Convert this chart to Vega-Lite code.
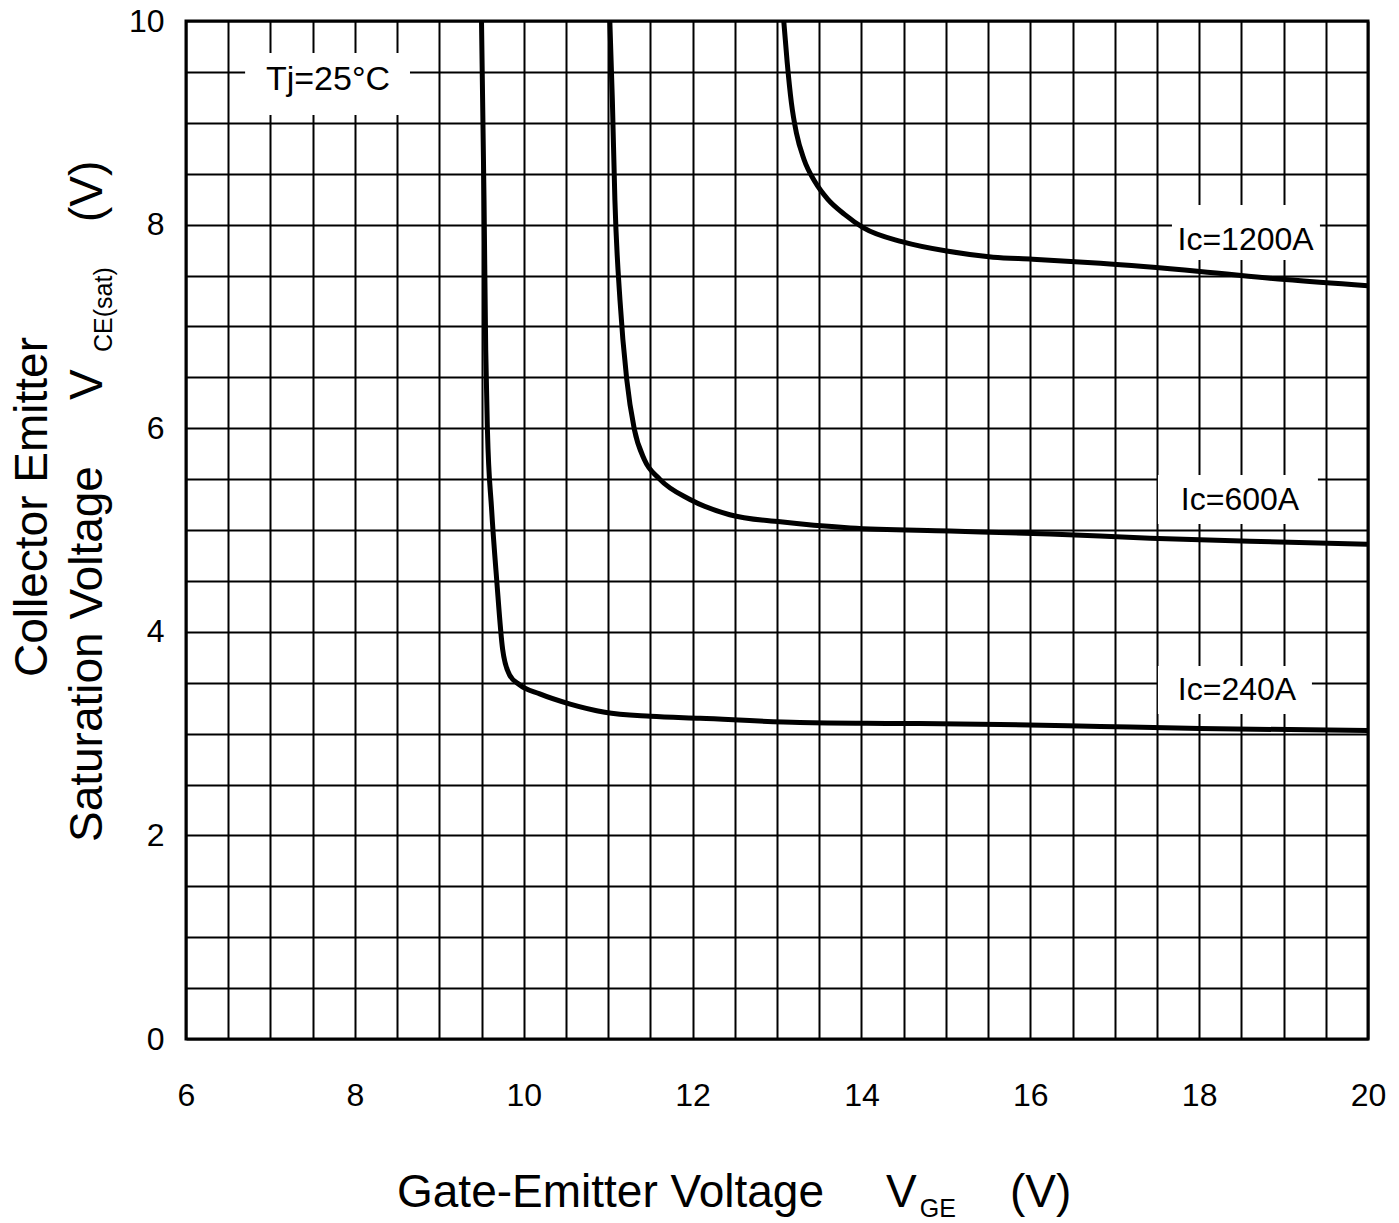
{
  "$schema": "https://vega.github.io/schema/vega-lite/v6.json",
  "width": 1182,
  "height": 1018,
  "autosize": {"type": "none"},
  "padding": {"left": 186, "top": 21, "right": 31, "bottom": 184},
  "background": "white",
  "config": {
    "view": {"stroke": "black", "strokeWidth": 3},
    "font": "Liberation Sans",
    "axis": {
      "grid": true, "gridColor": "black", "gridWidth": 2, "gridOpacity": 1,
      "domain": false, "ticks": false, "tickSize": 0,
      "labelFont": "Liberation Sans", "labelFontSize": 32, "labelColor": "black",
      "labelOverlap": false, "labelFlush": false, "title": null
    }
  },
  "datasets": {
    "curves": [
      {"s": "240A", "x": 9.50, "y": 10.0},
      {"s": "240A", "x": 9.53, "y": 8.24},
      {"s": "240A", "x": 9.55, "y": 6.77},
      {"s": "240A", "x": 9.57, "y": 5.99},
      {"s": "240A", "x": 9.62, "y": 5.20},
      {"s": "240A", "x": 9.68, "y": 4.51},
      {"s": "240A", "x": 9.75, "y": 3.83},
      {"s": "240A", "x": 9.83, "y": 3.58},
      {"s": "240A", "x": 9.95, "y": 3.48},
      {"s": "240A", "x": 10.19, "y": 3.39},
      {"s": "240A", "x": 10.55, "y": 3.29},
      {"s": "240A", "x": 10.96, "y": 3.21},
      {"s": "240A", "x": 11.5, "y": 3.17},
      {"s": "240A", "x": 12.09, "y": 3.15},
      {"s": "240A", "x": 13.27, "y": 3.11},
      {"s": "240A", "x": 14.46, "y": 3.10},
      {"s": "240A", "x": 15.64, "y": 3.09},
      {"s": "240A", "x": 16.83, "y": 3.07},
      {"s": "240A", "x": 18.01, "y": 3.05},
      {"s": "240A", "x": 20.0, "y": 3.03},
      {"s": "600A", "x": 11.02, "y": 10.0},
      {"s": "600A", "x": 11.05, "y": 9.22},
      {"s": "600A", "x": 11.08, "y": 8.24},
      {"s": "600A", "x": 11.14, "y": 7.26},
      {"s": "600A", "x": 11.22, "y": 6.48},
      {"s": "600A", "x": 11.31, "y": 5.99},
      {"s": "600A", "x": 11.43, "y": 5.69},
      {"s": "600A", "x": 11.61, "y": 5.50},
      {"s": "600A", "x": 11.97, "y": 5.30},
      {"s": "600A", "x": 12.44, "y": 5.15},
      {"s": "600A", "x": 13.04, "y": 5.08},
      {"s": "600A", "x": 13.87, "y": 5.02},
      {"s": "600A", "x": 15.05, "y": 4.99},
      {"s": "600A", "x": 16.23, "y": 4.96},
      {"s": "600A", "x": 17.42, "y": 4.92},
      {"s": "600A", "x": 18.6, "y": 4.89},
      {"s": "600A", "x": 20.0, "y": 4.86},
      {"s": "1200A", "x": 13.08, "y": 10.0},
      {"s": "1200A", "x": 13.12, "y": 9.6},
      {"s": "1200A", "x": 13.17, "y": 9.2},
      {"s": "1200A", "x": 13.23, "y": 8.9},
      {"s": "1200A", "x": 13.32, "y": 8.64},
      {"s": "1200A", "x": 13.45, "y": 8.42},
      {"s": "1200A", "x": 13.6, "y": 8.25},
      {"s": "1200A", "x": 13.8, "y": 8.1},
      {"s": "1200A", "x": 14.02, "y": 7.97},
      {"s": "1200A", "x": 14.49, "y": 7.83},
      {"s": "1200A", "x": 15.01, "y": 7.74},
      {"s": "1200A", "x": 15.56, "y": 7.68},
      {"s": "1200A", "x": 16.03, "y": 7.66},
      {"s": "1200A", "x": 16.83, "y": 7.62},
      {"s": "1200A", "x": 18.01, "y": 7.54},
      {"s": "1200A", "x": 19.02, "y": 7.46},
      {"s": "1200A", "x": 20.0, "y": 7.40}
    ],
    "boxes": [
      {"x": 6.70, "x2": 8.653, "y": 9.686, "y2": 9.077},
      {"x": 17.678, "x2": 19.431, "y": 8.193, "y2": 7.652},
      {"x": 17.512, "x2": 19.407, "y": 5.540, "y2": 5.059},
      {"x": 17.512, "x2": 19.336, "y": 3.664, "y2": 3.193}
    ],
    "iclabels": [
      {"x": 18.55, "y": 7.85, "t": "Ic=1200A"},
      {"x": 18.484, "y": 5.295, "t": "Ic=600A"},
      {"x": 18.448, "y": 3.428, "t": "Ic=240A"}
    ],
    "tj": [{"x": 7.682, "y": 9.42, "t": "Tj=25°C"}],
    "ytitle": [
      {"x": 4.354, "y": 3.556, "t": "Collector Emitter"},
      {"x": 5.005, "y": 1.935, "t": "Saturation Voltage"},
      {"x": 5.005, "y": 6.277, "t": "V"},
      {"x": 5.005, "y": 8.026, "t": "(V)"}
    ],
    "ysub": [{"x": 5.125, "y": 6.749, "t": "CE(sat)"}],
    "xtitle": [
      {"x": 8.499, "y": -1.65, "t": "Gate-Emitter Voltage"},
      {"x": 14.291, "y": -1.65, "t": "V"},
      {"x": 15.76, "y": -1.65, "t": "(V)"}
    ],
    "xsub": [{"x": 14.69, "y": -1.749, "t": "GE"}]
  },
  "encoding": {
    "x": {
      "field": "x", "type": "quantitative",
      "scale": {"domain": [6, 20], "nice": false, "zero": false},
      "axis": {
        "values": [6,6.5,7,7.5,8,8.5,9,9.5,10,10.5,11,11.5,12,12.5,13,13.5,14,14.5,15,15.5,16,16.5,17,17.5,18,18.5,19,19.5,20],
        "labelExpr": "datum.value % 2 === 0 ? format(datum.value, 'd') : ''",
        "labelPadding": 56, "labelBaseline": "middle"
      }
    },
    "y": {
      "field": "y", "type": "quantitative",
      "scale": {"domain": [0, 10], "nice": false, "zero": false},
      "axis": {
        "values": [0,0.5,1,1.5,2,2.5,3,3.5,4,4.5,5,5.5,6,6.5,7,7.5,8,8.5,9,9.5,10],
        "labelExpr": "datum.value % 2 === 0 ? format(datum.value, 'd') : ''",
        "labelPadding": 22
      }
    }
  },
  "layer": [
    {
      "data": {"name": "boxes"},
      "mark": {"type": "rect", "fill": "white", "stroke": null},
      "encoding": {"x2": {"field": "x2"}, "y2": {"field": "y2"}}
    },
    {
      "data": {"name": "curves"},
      "mark": {"type": "line", "color": "black", "strokeWidth": 5, "interpolate": "monotone"},
      "encoding": {"detail": {"field": "s", "type": "nominal"}}
    },
    {
      "data": {"name": "iclabels"},
      "mark": {"type": "text", "font": "Liberation Sans", "fontSize": 32, "color": "black", "align": "center", "baseline": "middle"},
      "encoding": {"text": {"field": "t"}}
    },
    {
      "data": {"name": "tj"},
      "mark": {"type": "text", "font": "Liberation Sans", "fontSize": 34, "color": "black", "align": "center", "baseline": "middle"},
      "encoding": {"text": {"field": "t"}}
    },
    {
      "data": {"name": "ytitle"},
      "mark": {"type": "text", "font": "Liberation Sans", "fontSize": 46, "color": "black", "align": "left", "baseline": "alphabetic", "angle": -90},
      "encoding": {"text": {"field": "t"}}
    },
    {
      "data": {"name": "ysub"},
      "mark": {"type": "text", "font": "Liberation Sans", "fontSize": 25, "color": "black", "align": "left", "baseline": "alphabetic", "angle": -90},
      "encoding": {"text": {"field": "t"}}
    },
    {
      "data": {"name": "xtitle"},
      "mark": {"type": "text", "font": "Liberation Sans", "fontSize": 46, "color": "black", "align": "left", "baseline": "alphabetic"},
      "encoding": {"text": {"field": "t"}}
    },
    {
      "data": {"name": "xsub"},
      "mark": {"type": "text", "font": "Liberation Sans", "fontSize": 25, "color": "black", "align": "left", "baseline": "alphabetic"},
      "encoding": {"text": {"field": "t"}}
    }
  ]
}
